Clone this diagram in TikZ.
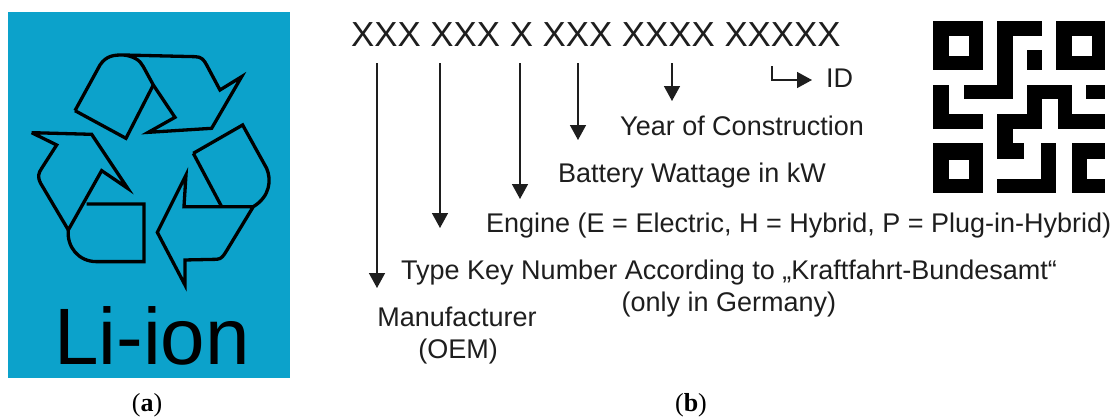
\documentclass[tikz,border=0pt]{standalone}
\usepackage{fontspec}
\setmainfont{Liberation Sans}
\newfontfamily\capfont{Liberation Serif}
\usetikzlibrary{arrows.meta}
\definecolor{panel}{HTML}{0CA2CB}
\definecolor{ink}{HTML}{1E1E1E}
\newcommand{\lblsize}{\fontsize{27}{32}\selectfont}
\tikzset{
  x=1pt,y=-1pt,
  recyc/.style={draw=black,line width=3.3pt,line join=miter,miter limit=10},
  lbl/.style={text=ink,inner sep=0pt,font=\lblsize,align=center},
  caplbl/.style={text=black,inner sep=0pt,font=\capfont\fontsize{26}{30}\selectfont},
  pointer/.style={draw=ink,line width=1.5pt,-{Triangle[length=15pt,width=16pt]}},
}
\newcommand{\qrrect}[4]{\fill[black] ({920+(40+46.8*#1)/3},{10+(32+46.9*#2)/3}) rectangle ({920+(40+46.8*#3)/3},{10+(32+46.9*#4)/3});}
\newcommand{\qrhole}[4]{\fill[white] ({920+(40+46.8*#1)/3},{10+(32+46.9*#2)/3}) rectangle ({920+(40+46.8*#3)/3},{10+(32+46.9*#4)/3});}
\begin{document}
\begin{tikzpicture}
\useasboundingbox (0,0) rectangle (1112,416);
\fill[white] (0,0) rectangle (1112,416);
\fill[panel] (8,12) rectangle (290,378);
% recycling symbol
\begin{scope}[x=0.3333pt,y=-0.3333pt]
 % top arrow
 \draw[recyc] (225,332) -- (300,195) .. controls (320,165) and (345,165) .. (370,165) -- (585,170) .. controls (605,170) and (612,180) .. (620,195) -- (660,270) -- (725,230) -- (635,385) -- (445,397) -- (525,352) -- (460,255) -- (430,200) .. controls (420,180) and (400,168) .. (370,165);
 \draw[recyc] (460,255) -- (378,415) -- (225,332);
 % right arrow
 \draw[recyc] (580,460) -- (728,375) -- (800,505) .. controls (815,540) and (810,590) .. (760,620) -- (552,620) -- (558,525) -- (472,697) -- (555,855) -- (555,780) -- (650,778) .. controls (665,778) and (672,765) .. (680,752) -- (760,620);
 \draw[recyc] (580,460) -- (665,620);
 % left arrow
 \draw[recyc] (95,398) -- (275,403) -- (383,565) -- (305,512) -- (205,690) -- (122,550) .. controls (112,530) and (115,520) .. (125,505) -- (170,435) -- (95,398);
 \draw[recyc] (260,612) -- (432,612) -- (432,785) -- (290,785) .. controls (235,785) and (200,740) .. (205,690);
\end{scope}
\node[anchor=base,inner sep=0pt,text=black,font=\fontsize{80}{90}\selectfont] (liion) at (152,364) {Li-ion};
\node[caplbl,anchor=base] (capa) at (147,411) {(\textbf{a})};
\node[caplbl,anchor=base] (capb) at (691,411) {(\textbf{b})};
% code row
\node[anchor=base west,inner sep=0pt,text=ink,font=\fontsize{34.8}{40}\selectfont] (code) at (351,46) {XXX XXX X XXX XXXX XXXXX};
% labels
\node[lbl,anchor=base west] (id) at (826,87) {ID};
\node[lbl,anchor=base west] (year) at (620,135) {Year of Construction};
\node[lbl,anchor=base west] (batt) at (558,182) {Battery Wattage in kW};
\node[lbl,anchor=base west] (eng) at (486,232) {Engine (E = Electric, H = Hybrid, P = Plug-in-Hybrid)};
\node[lbl,anchor=base west] (type) at (401,279) {Type Key Number According to „Kraftfahrt-Bundesamt“};
\node[lbl,anchor=base] (ger) at (729,311) {(only in Germany)};
\node[lbl,anchor=base] (mfr) at (457,326) {Manufacturer};
\node[lbl,anchor=base] (oem) at (458,358) {(OEM)};
% arrows
\coordinate (a1) at (377,63); \coordinate (b1) at (377,288);
\coordinate (a2) at (440,63); \coordinate (b2) at (440,228);
\coordinate (a3) at (520,63); \coordinate (b3) at (520,199);
\coordinate (a4) at (578,63); \coordinate (b4) at (578,140);
\coordinate (a5) at (672,63); \coordinate (b5) at (672,101);
\coordinate (a6) at (772,66); \coordinate (b6) at (812,80);
\draw[pointer] (a1) -- (b1);
\draw[pointer] (a2) -- (b2);
\draw[pointer] (a3) -- (b3);
\draw[pointer] (a4) -- (b4);
\draw[pointer] (a5) -- (b5);
\draw[pointer] (a6) |- (b6);
% QR code
\qrrect{0}{0}{3.16}{3.16}\qrhole{1}{1}{2.28}{2.28}
\qrrect{7.85}{0}{11}{3.16}\qrhole{8.9}{1}{10.2}{2.28}
\qrrect{0}{7.85}{3.16}{11}\qrhole{1}{8.9}{2.28}{10.1}
\qrrect{4.1}{0}{6.95}{1}
\qrrect{4.1}{0}{5.1}{5}
\qrrect{1.95}{4.1}{5.1}{5}
\qrrect{6}{1.9}{6.95}{3.16}
\qrrect{0}{4.1}{1}{6.95}
\qrrect{0}{6}{3.16}{6.95}
\qrrect{9.8}{4.1}{11}{5}
\qrrect{6}{4.1}{8.9}{5}
\qrrect{6}{4.1}{6.95}{6.95}
\qrrect{4.1}{6}{6.95}{6.95}
\qrrect{4.1}{6}{5.1}{8.85}
\qrrect{4.1}{7.85}{5.8}{8.85}
\qrrect{8}{4.1}{8.9}{6.95}
\qrrect{8}{6}{11}{6.95}
\qrrect{4.1}{10.1}{7.85}{11}
\qrrect{6.9}{7.85}{7.85}{11}
\qrrect{8.9}{7.85}{9.85}{11}
\qrrect{8.9}{7.85}{11}{8.85}
\qrrect{8.9}{10.1}{11}{11}
\end{tikzpicture}
\end{document}
